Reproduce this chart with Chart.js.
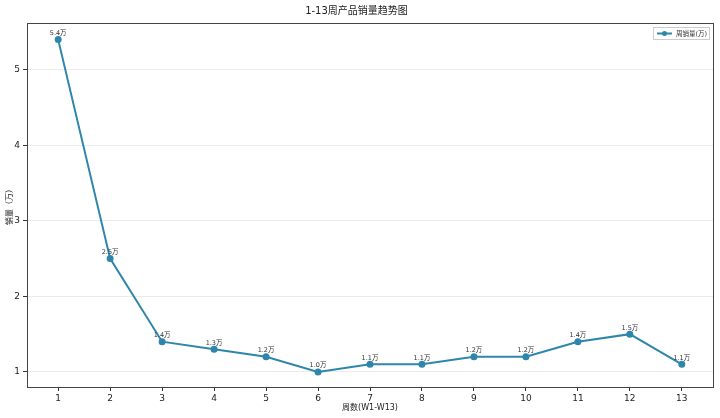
<!DOCTYPE html>
<html>
<head>
<meta charset="utf-8">
<script src="https://cdn.jsdelivr.net/npm/chart.js@4/dist/chart.umd.min.js"></script>
<style>
  html, body { margin: 0; padding: 0; background: #fff; }
  #wrap { width: 720px; height: 418px; }
</style>
</head>
<body>
<div id="wrap"><canvas id="c"></canvas></div>
<script>
const weeks = [1, 2, 3, 4, 5, 6, 7, 8, 9, 10, 11, 12, 13]
const sales = [5.4, 2.5, 1.4, 1.3, 1.2, 1.0, 1.1, 1.1, 1.2, 1.2, 1.4, 1.5, 1.1]
const yTicks = [1, 2, 3, 4, 5]
const seriesName = '周销量(万)'

const FONT = "'DejaVu Sans', 'Noto Sans CJK SC', sans-serif"
const LINE = '#2E86AB'

// point labels + plot frame + small legend box in upper right
const extras = {
  id: 'extras',
  afterDatasetsDraw(chart) {
    const ctx = chart.ctx
    const meta = chart.getDatasetMeta(0)
    ctx.save()
    ctx.font = '6.5px ' + FONT
    ctx.fillStyle = '#333'
    ctx.textAlign = 'center'
    ctx.textBaseline = 'bottom'
    meta.data.forEach((pt, i) => {
      ctx.fillText(sales[i].toFixed(1) + '万', pt.x, pt.y - 3)
    })
    ctx.restore()
  },
  afterDraw(chart) {
    const ctx = chart.ctx
    const a = chart.chartArea
    ctx.save()
    ctx.strokeStyle = '#444'
    ctx.lineWidth = 1
    ctx.strokeRect(Math.round(a.left) + 0.5, Math.round(a.top) + 0.5, Math.round(a.right - a.left), Math.round(a.bottom - a.top))

    // legend
    const bx = a.right - 60, by = a.top + 4, bw = 56, bh = 12
    ctx.fillStyle = 'rgba(255,255,255,0.9)'
    ctx.fillRect(bx, by, bw, bh)
    ctx.strokeStyle = '#ccc'
    ctx.strokeRect(bx + 0.5, by + 0.5, bw, bh)
    ctx.strokeStyle = LINE
    ctx.lineWidth = 2
    ctx.beginPath()
    ctx.moveTo(bx + 4, by + bh / 2 + 0.5)
    ctx.lineTo(bx + 19, by + bh / 2 + 0.5)
    ctx.stroke()
    ctx.fillStyle = LINE
    ctx.beginPath()
    ctx.arc(bx + 11.5, by + bh / 2 + 0.5, 2.5, 0, Math.PI * 2)
    ctx.fill()
    ctx.fillStyle = '#333'
    ctx.font = '6.5px ' + FONT
    ctx.textBaseline = 'middle'
    ctx.fillText(seriesName, bx + 23, by + bh / 2 + 1)
    ctx.restore()
  }
}

new Chart(document.getElementById('c'), {
  type: 'line',
  data: {
    datasets: [{
      label: seriesName,
      data: weeks.map((w, i) => ({ x: w, y: sales[i] })),
      borderColor: LINE,
      backgroundColor: LINE,
      borderWidth: 2,
      pointRadius: 2.5,
      pointHoverRadius: 2.5,
      tension: 0,
      fill: false
    }]
  },
  options: {
    responsive: true,
    maintainAspectRatio: false,
    animation: false,
    layout: { padding: { left: 0, right: 7, top: 0, bottom: 0 } },
    plugins: {
      legend: { display: false },
      tooltip: { enabled: false },
      title: {
        display: true,
        text: '1-13周产品销量趋势图',
        color: '#222',
        font: { family: FONT, size: 10, weight: 'normal' },
        padding: { top: 5, bottom: 6 }
      }
    },
    scales: {
      x: {
        type: 'linear',
        min: 0.4,
        max: 13.6,
        afterBuildTicks: s => { s.ticks = weeks.map(v => ({ value: v })) },
        afterFit: s => { s.height = 31 },
        border: { display: false },
        grid: { drawOnChartArea: false, drawTicks: true, tickLength: 4, tickColor: '#333' },
        ticks: { color: '#222', font: { family: FONT, size: 9 }, padding: 2, maxRotation: 0 },
        title: {
          display: true,
          text: '周数(W1-W13)',
          color: '#222',
          font: { family: FONT, size: 8 },
          padding: { top: 0, bottom: 5 }
        }
      },
      y: {
        min: 0.8,
        max: 5.62,
        afterBuildTicks: s => { s.ticks = yTicks.map(v => ({ value: v })) },
        afterFit: s => { s.width = 27 },
        border: { display: false },
        grid: { color: '#ebebeb', lineWidth: 1, drawTicks: true, tickLength: 4, tickColor: '#333' },
        ticks: { color: '#222', font: { family: FONT, size: 9 }, padding: 3 },
        title: {
          display: true,
          text: '销量（万）',
          color: '#222',
          font: { family: FONT, size: 8 },
          padding: { top: 5, bottom: 0 }
        }
      }
    }
  },
  plugins: [extras]
})
</script>
</body>
</html>
